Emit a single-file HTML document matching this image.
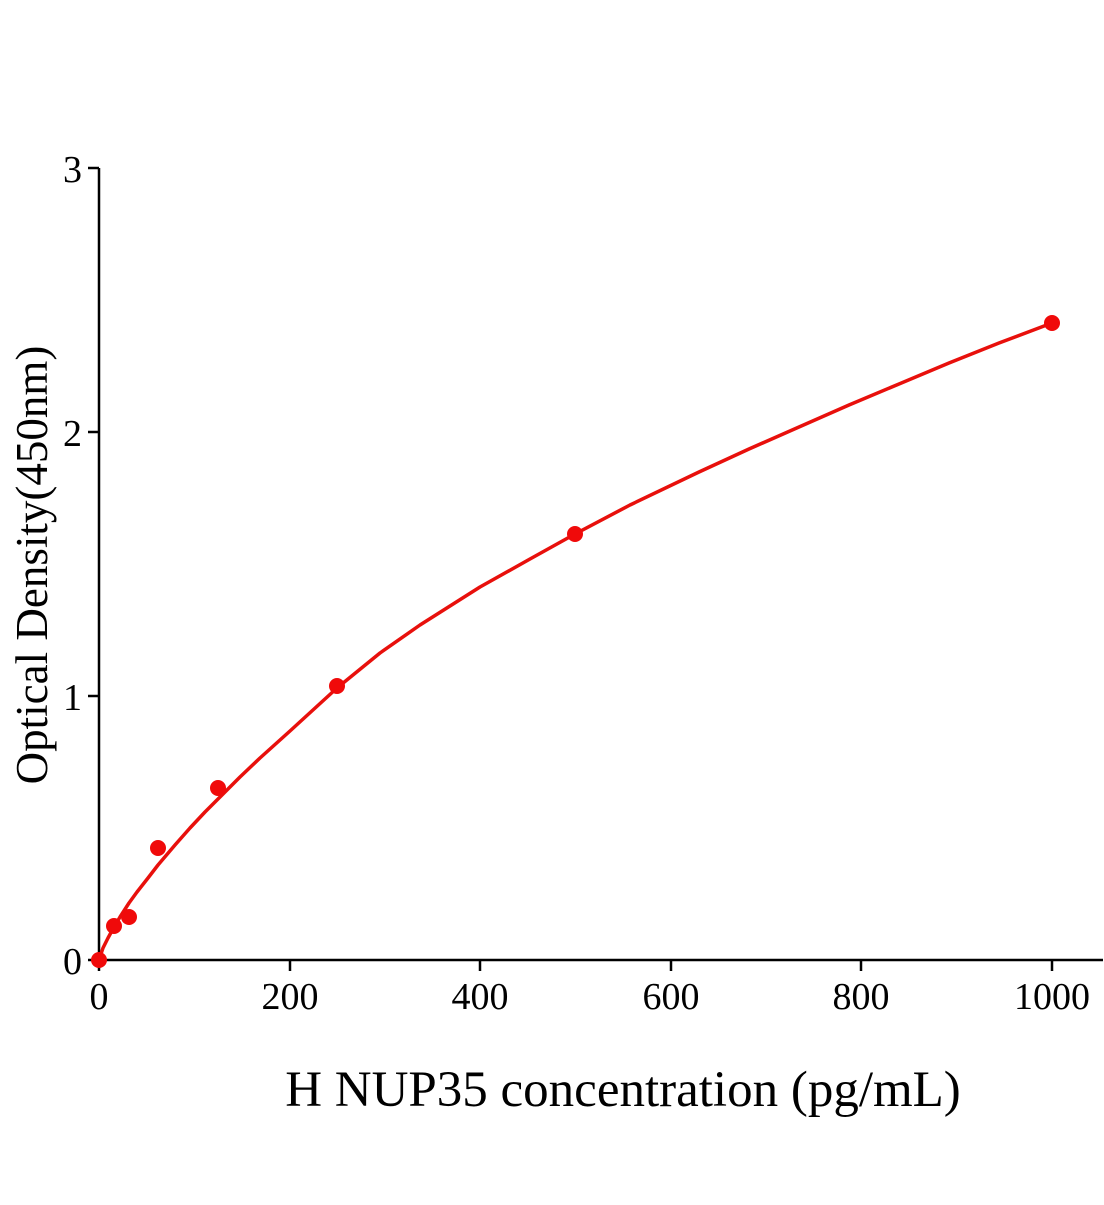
<!DOCTYPE html>
<html><head><style>body{margin:0;background:#fff}</style></head><body>
<svg width="1104" height="1200" xmlns="http://www.w3.org/2000/svg" font-family="Liberation Serif, serif">
<rect width="1104" height="1200" fill="#fff"/>
<g stroke="#000" stroke-width="2.5" fill="none">
<line x1="99" y1="168" x2="99" y2="961"/>
<line x1="98" y1="960" x2="1103" y2="960"/>
<line x1="88" y1="168" x2="99" y2="168"/>
<line x1="88" y1="432" x2="99" y2="432"/>
<line x1="88" y1="696" x2="99" y2="696"/>
<line x1="88" y1="960" x2="99" y2="960"/>
<line x1="99" y1="960" x2="99" y2="971"/>
<line x1="290" y1="960" x2="290" y2="971"/>
<line x1="480" y1="960" x2="480" y2="971"/>
<line x1="671" y1="960" x2="671" y2="971"/>
<line x1="861" y1="960" x2="861" y2="971"/>
<line x1="1052" y1="960" x2="1052" y2="971"/>
</g>
<g font-size="38" text-anchor="end">
<text x="82" y="182">3</text><text x="82" y="446">2</text><text x="82" y="710">1</text><text x="82" y="974">0</text>
</g>
<g font-size="38" text-anchor="middle">
<text x="99" y="1009">0</text><text x="290" y="1009">200</text><text x="480" y="1009">400</text><text x="671" y="1009">600</text><text x="861" y="1009">800</text><text x="1052" y="1009">1000</text>
</g>
<text x="623" y="1106" font-size="51" text-anchor="middle">H NUP35 concentration (pg/mL)</text>
<text transform="translate(47,565) rotate(-90)" font-size="45" text-anchor="middle">Optical Density(450nm)</text>
<polyline fill="none" stroke="#e8100c" stroke-width="3.5" stroke-linejoin="round" points="99,960 103,948 108,938 114,927 120,917 129,903 137,892 148,878 158,865 175,845 190,828 205,812 218,799 240,777 260,758 290,731 337,688 380,653 420,625 480,587 530,559 575,534 630,505 699,472 749,449 799,427 849,405 899,384 949,363 999,343 1052,323"/>
<g fill="#f00a0a">
<circle cx="99" cy="960" r="8"/>
<circle cx="114" cy="926" r="8"/><circle cx="129" cy="917" r="8"/><circle cx="158" cy="848" r="8"/><circle cx="218" cy="788" r="8"/><circle cx="337" cy="686" r="8"/><circle cx="575" cy="534" r="8"/><circle cx="1052" cy="323" r="8"/>
</g>
</svg>
</body></html>
